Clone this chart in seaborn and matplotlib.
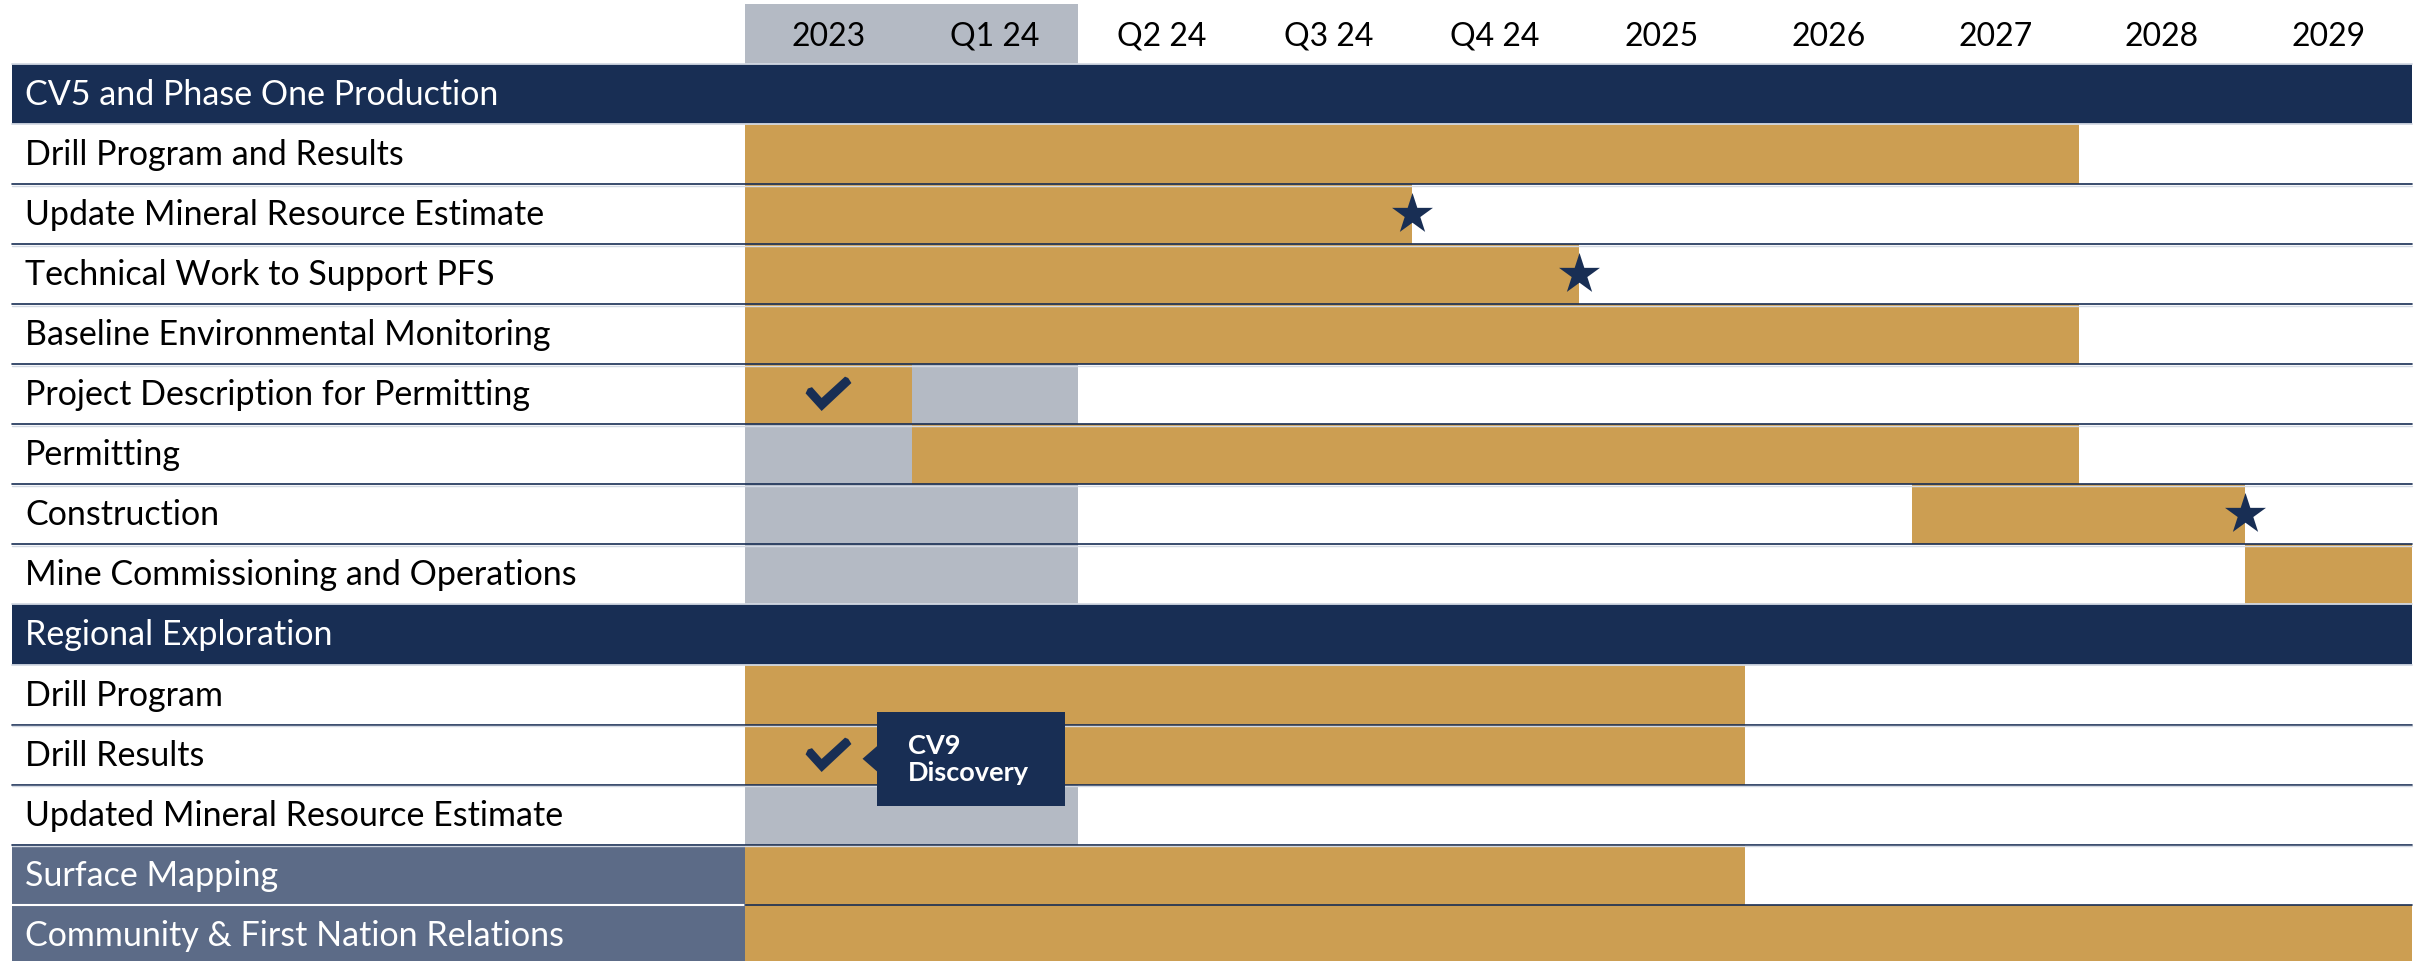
# Project timeline chart - CV5 / regional exploration schedule
import numpy as np
import pandas as pd
import matplotlib.pyplot as plt
import seaborn as sns
from matplotlib.patches import Rectangle, Polygon
from matplotlib.path import Path

periods = ["2023", "Q1 24", "Q2 24", "Q3 24", "Q4 24",
           "2025", "2026", "2027", "2028", "2029"]

rows = [
    "CV5 and Phase One Production",
    "Drill Program and Results",
    "Update Mineral Resource Estimate",
    "Technical Work to Support PFS",
    "Baseline Environmental Monitoring",
    "Project Description for Permitting",
    "Permitting",
    "Construction",
    "Mine Commissioning and Operations",
    "Regional Exploration",
    "Drill Program",
    "Drill Results",
    "Updated Mineral Resource Estimate",
    "Surface Mapping",
    "Community & First Nation Relations",
]
section_rows = ["CV5 and Phase One Production", "Regional Exploration"]
standalone_rows = ["Surface Mapping", "Community & First Nation Relations"]

# gold bars, start / end in period index
bar_task = ["Drill Program and Results", "Update Mineral Resource Estimate",
            "Technical Work to Support PFS", "Baseline Environmental Monitoring",
            "Project Description for Permitting", "Permitting", "Construction",
            "Mine Commissioning and Operations", "Drill Program", "Drill Results",
            "Surface Mapping", "Community & First Nation Relations"]
bar_start = [0, 0, 0, 0, 0, 1, 7, 9, 0, 0, 0, 0]
bar_end   = [8, 4, 5, 8, 1, 8, 9, 10, 6, 6, 6, 10]

# milestones (stars) and completed items (checks)
star_task = ["Update Mineral Resource Estimate", "Technical Work to Support PFS", "Construction"]
star_at = [4, 5, 9]
check_task = ["Project Description for Permitting", "Drill Results"]
check_at = [0.5, 0.5]

done_periods = 2  # 2023 and Q1 24 shaded grey
callout_task = "Drill Results"
callout_text = "CV9\nDiscovery"

navy = "#182e54"
gold = "#cc9e52"
grey = "#b4bac4"
slate = "#5c6b87"
light = "#d3d9e3"

sns.set_theme(style="white")
plt.rcParams["font.family"] = ["Lato", "DejaVu Sans"]

W, H = 2427, 962
x0_px, col_px = 745, 166.7
top_px = 65
row_px = 60.05

fig = plt.figure(figsize=(W / 100, H / 100), dpi=100)
ax = fig.add_axes([0, 0, 1, 1])
ax.set_xlim(-x0_px / col_px, (W - x0_px) / col_px)
ax.set_ylim((H - top_px) / row_px, -top_px / row_px)
ax.axis("off")

lab_x0 = -x0_px / col_px + 12 / col_px
lab_txt = -x0_px / col_px + 25 / col_px
idx = {r: i for i, r in enumerate(rows)}
n = len(periods)

# grey "done" columns behind everything
ax.add_patch(Rectangle((0, -(top_px - 5) / row_px), done_periods,
                       len(rows) + (top_px - 5) / row_px, color=grey, zorder=0, lw=0))

# period header
for i, p in enumerate(periods):
    ax.text(i + 0.5, (37 - top_px) / row_px, p, ha="center", va="center",
            fontsize=23, color="black")

# gold bars
bars = pd.DataFrame({"task": bar_task, "start": bar_start, "end": bar_end})
bars["y"] = bars["task"].map(idx) + 0.5
ax.barh(bars["y"], bars["end"] - bars["start"], left=bars["start"],
        height=1.0, color=gold, lw=0, zorder=1)

# section bands and standalone label cells
for r in section_rows:
    ax.barh(idx[r] + 0.5, n - lab_x0, left=lab_x0, height=1.0, color=navy, lw=0, zorder=2)
for r in standalone_rows:
    ax.barh(idx[r] + 0.5, -lab_x0, left=lab_x0, height=1.0, color=slate, lw=0, zorder=2)

# row separators
for b in range(0, len(rows)):
    above = rows[b - 1] if b > 0 else None
    below = rows[b]
    if above in section_rows or below in section_rows or above is None:
        ax.plot([lab_x0, n], [b, b], color=light, lw=1.3, zorder=3)
    elif above in standalone_rows and below in standalone_rows:
        ax.plot([lab_x0, 0], [b, b], color="white", lw=1.5, zorder=3)
        ax.plot([0, n], [b, b], color=navy, lw=1.2, zorder=3)
    else:
        ax.plot([lab_x0, n], [b, b], color=navy, lw=1.2, zorder=3)
        ax.plot([lab_x0, n], [b + 1.6 / row_px, b + 1.6 / row_px], color=light, lw=1.0, zorder=3)

# row labels
for r in rows:
    white = r in section_rows or r in standalone_rows
    ax.text(lab_txt, idx[r] + 0.5, r, ha="left", va="center", fontsize=24.5,
            color="white" if white else "black", zorder=4)

# milestone stars
stars = pd.DataFrame({"x": star_at, "y": [idx[t] + 0.5 for t in star_task]})
sns.scatterplot(data=stars, x="x", y="y", marker="*", s=31 ** 2, color=navy,
                linewidth=0, ax=ax, zorder=5, legend=False)

# completed check marks, bold check drawn as a marker shape
check_shape = Path([(-1.0, 0.05), (-0.3, -0.72), (1.0, 0.5), (0.86, 0.72),
                    (0.72, 0.78), (-0.3, -0.15), (-0.72, 0.32), (-0.9, 0.26),
                    (-1.0, 0.05)], closed=True)
checks = pd.DataFrame({"x": check_at, "y": [idx[t] + 0.5 for t in check_task]})
sns.scatterplot(data=checks, x="x", y="y", marker=check_shape, s=33 ** 2, color=navy,
                linewidth=0, ax=ax, zorder=5, legend=False)
ax.axis("off")

# callout box
cy = idx[callout_task] + 0.57
bx0, bw, bh = 0.79, 1.13, 1.56
ax.add_patch(Rectangle((bx0, cy - bh / 2), bw, bh, color=navy, lw=0, zorder=6))
ax.add_patch(Polygon([[bx0 - 0.085, cy], [bx0 + 0.01, cy - 0.23], [bx0 + 0.01, cy + 0.23]],
                     closed=True, color=navy, lw=0, zorder=6))
ax.text(0.978, cy, callout_text, ha="left", va="center", fontsize=19.5,
        fontweight="bold", color="white", linespacing=1.15, zorder=7)

fig.savefig("out.png", dpi=100)
